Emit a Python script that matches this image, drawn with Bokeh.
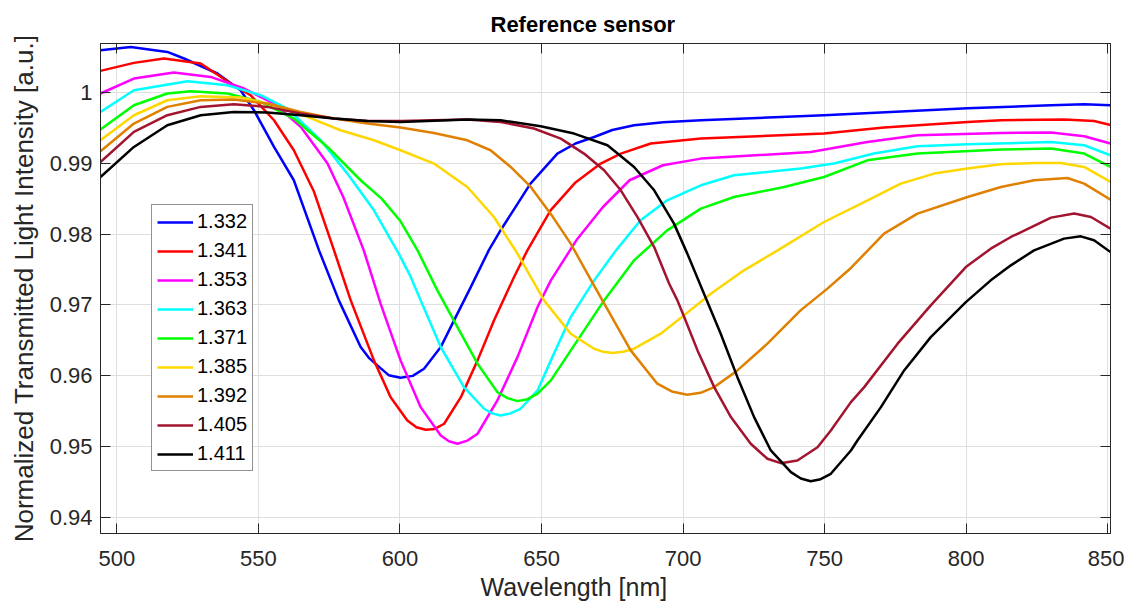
from bokeh.plotting import figure
from bokeh.models import (LinearAxis, FixedTicker, CustomJSTickFormatter, Range1d, Title)
from bokeh.embed import file_html
from bokeh.resources import INLINE

# ---------------- data ----------------
labels = ["1.332", "1.341", "1.353", "1.363", "1.371", "1.385", "1.392", "1.405", "1.411"]
colors = ["#0000FF", "#FF0000", "#FF00FF", "#00FFFF", "#00FF00", "#FFD700", "#DF8000", "#A2142F", "#000000"]

wl_1332 = [494.2, 504.9, 517.8, 523.7, 535.5, 543.7, 548.4, 555.5, 562.5, 571.4, 578.4, 586.1, 589.0, 592.0, 596.0, 600.2,
           604.5, 608.5, 614.4, 619.1, 625.0, 631.4, 635.5, 646.1, 655.6, 662.0, 668.6, 675.0, 682.7, 693.0, 706.3,
           749.8, 800.5, 830.0, 841.7, 851.0]
it_1332 = [1.00598, 1.00645, 1.00574, 1.00481, 1.00269, 1.00033, 0.99750, 0.99231, 0.98760, 0.97769, 0.97062, 0.96402, 0.96250, 0.96143, 0.96005, 0.95969,
           0.95995, 0.96096, 0.96402, 0.96779, 0.97250, 0.97772, 0.98050, 0.98713, 0.99137, 0.99280, 0.99372, 0.99470, 0.99537, 0.99580, 0.99608,
           0.99679, 0.99778, 0.99820, 0.99834, 0.99820]

wl_1341 = [494.2, 506.0, 516.6, 529.6, 540.2, 547.2, 555.5, 562.5, 569.6, 576.7, 582.6, 590.8, 596.7, 602.6, 605.8, 609.1,
           612.3, 615.6, 621.5, 627.4, 633.2, 640.3, 645.0, 653.2, 662.0, 670.9, 678.0, 688.6, 706.3, 749.8, 771.0, 800.5,
           812.3, 834.6, 845.2, 851.0]
it_1341 = [1.00306, 1.00419, 1.00481, 1.00410, 1.00127, 0.99962, 0.99608, 0.99184, 0.98600, 0.97769, 0.97062, 0.96214, 0.95694, 0.95365, 0.95268, 0.95233,
           0.95245, 0.95318, 0.95694, 0.96214, 0.96779, 0.97392, 0.97769, 0.98335, 0.98730, 0.98996, 0.99137, 0.99279, 0.99349, 0.99420, 0.99505, 0.99584,
           0.99608, 0.99618, 0.99598, 0.99542]

wl_1353 = [494.2, 506.0, 520.1, 533.1, 544.9, 555.5, 565.0, 574.4, 580.0, 587.2, 593.2, 600.2, 607.3, 614.4, 617.3, 620.3,
           623.8, 627.4, 634.4, 641.5, 648.6, 653.3, 662.3, 671.7, 681.1, 692.9, 706.3, 745.1, 765.1, 782.8, 812.3, 830.0, 841.7, 851.0]
it_1353 = [0.99986, 1.00198, 1.00283, 1.00221, 1.00057, 0.99844, 0.99513, 0.98996, 0.98520, 0.97769, 0.97010, 0.96214, 0.95553, 0.95153, 0.95070, 0.95035,
           0.95080, 0.95177, 0.95648, 0.96260, 0.96968, 0.97345, 0.97911, 0.98382, 0.98760, 0.98972, 0.99066, 0.99160, 0.99301, 0.99396, 0.99429, 0.99434, 0.99382, 0.99279]

wl_1363 = [494.2, 506.0, 524.9, 539.0, 550.8, 560.2, 572.0, 581.4, 590.8, 599.6, 603.5, 607.3, 614.4, 622.6, 629.7, 632.6, 635.5,
           639.0, 642.6, 648.6, 653.3, 660.3, 668.6, 676.3, 685.0, 694.4, 706.3, 718.0, 741.5, 753.3, 767.4, 782.8, 800.5, 830.0, 841.7, 851.0]
it_1363 = [0.99726, 1.00033, 1.00160, 1.00103, 0.99962, 0.99774, 0.99325, 0.98854, 0.98335, 0.97720, 0.97420, 0.97062, 0.96402, 0.95836, 0.95530, 0.95465, 0.95436,
           0.95465, 0.95530, 0.95789, 0.96214, 0.96826, 0.97345, 0.97769, 0.98194, 0.98477, 0.98689, 0.98830, 0.98925, 0.98996, 0.99137, 0.99240, 0.99269, 0.99301, 0.99255, 0.99113]

wl_1371 = [494.2, 506.0, 517.8, 526.0, 539.0, 550.8, 562.5, 574.4, 586.1, 593.5, 600.2, 606.2, 613.2, 620.3, 627.4, 634.4, 638.0,
           641.5, 645.0, 648.6, 653.3, 662.7, 672.1, 682.7, 694.4, 706.3, 718.0, 735.7, 749.8, 765.1, 782.8, 812.3, 830.0, 841.7, 851.0]
it_1371 = [0.99477, 0.99820, 0.99986, 1.00018, 0.99986, 0.99867, 0.99632, 0.99231, 0.98760, 0.98500, 0.98180, 0.97769, 0.97204, 0.96685, 0.96167, 0.95765, 0.95680,
           0.95638, 0.95665, 0.95743, 0.95931, 0.96497, 0.97062, 0.97628, 0.98052, 0.98359, 0.98523, 0.98665, 0.98806, 0.99042, 0.99137, 0.99194, 0.99208, 0.99137, 0.98948]

wl_1385 = [494.2, 506.0, 517.8, 529.6, 543.7, 555.5, 567.3, 579.0, 590.8, 600.2, 612.0, 623.8, 633.2, 641.5, 650.9,
           660.3, 668.6, 671.8, 675.1, 678.8, 682.7, 692.1, 700.3, 709.8, 721.5, 733.4, 749.8, 765.2, 776.9, 788.7, 800.5,
           812.3, 824.0, 833.4, 841.7, 851.0]
it_1385 = [0.99325, 0.99679, 0.99891, 0.99948, 0.99929, 0.99820, 0.99655, 0.99467, 0.99325, 0.99184, 0.98996, 0.98665, 0.98240, 0.97723, 0.97062,
           0.96591, 0.96379, 0.96335, 0.96317, 0.96335, 0.96379, 0.96591, 0.96850, 0.97157, 0.97487, 0.97769, 0.98170, 0.98477, 0.98713, 0.98854, 0.98925,
           0.98986, 0.99004, 0.99004, 0.98948, 0.98735]

wl_1392 = [494.2, 506.0, 517.8, 529.6, 541.3, 553.1, 564.9, 576.7, 588.5, 600.2, 612.0, 623.8, 632.0, 639.1, 646.2, 653.2,
           660.3, 666.2, 671.5, 681.5, 690.9, 696.0, 701.5, 706.2, 711.0, 719.2, 729.8, 741.5, 751.0, 759.3, 771.0, 782.8,
           800.5, 812.3, 824.0, 835.8, 841.7, 851.0]
it_1392 = [0.99170, 0.99562, 0.99797, 0.99891, 0.99901, 0.99844, 0.99726, 0.99632, 0.99562, 0.99505, 0.99429, 0.99325, 0.99184, 0.98948, 0.98665, 0.98288,
           0.97864, 0.97440, 0.97062, 0.96355, 0.95884, 0.95775, 0.95728, 0.95755, 0.95836, 0.96072, 0.96450, 0.96921, 0.97228, 0.97520, 0.98006, 0.98288,
           0.98523, 0.98665, 0.98759, 0.98792, 0.98713, 0.98487]

wl_1405 = [494.2, 506.0, 517.8, 529.6, 541.3, 553.1, 564.9, 576.7, 588.5, 600.2, 623.8, 635.6, 647.3, 656.8, 665.0, 672.1,
           678.0, 683.9, 689.8, 695.1, 698.0, 700.4, 705.1, 711.0, 716.9, 723.9, 729.8, 734.5, 740.4, 747.5, 752.2, 759.3,
           764.0, 775.8, 787.5, 799.9, 808.7, 815.8, 830.0, 838.2, 844.1, 851.0]
it_1405 = [0.99018, 0.99443, 0.99679, 0.99797, 0.99835, 0.99797, 0.99703, 0.99632, 0.99598, 0.99598, 0.99618, 0.99584, 0.99491, 0.99349, 0.99137, 0.98901,
           0.98618, 0.98240, 0.97816, 0.97298, 0.97062, 0.96826, 0.96355, 0.95836, 0.95412, 0.95035, 0.94823, 0.94761, 0.94799, 0.94987, 0.95222, 0.95624,
           0.95836, 0.96450, 0.96992, 0.97533, 0.97793, 0.97958, 0.98232, 0.98289, 0.98240, 0.98076]

wl_1411 = [494.2, 506.0, 517.8, 529.6, 541.3, 553.1, 564.9, 576.7, 588.5, 600.2, 623.8, 635.6, 649.7, 661.5, 673.3, 682.7,
           689.8, 696.8, 701.5, 707.4, 713.3, 719.2, 725.1, 731.0, 738.1, 741.6, 745.1, 748.6, 752.2, 759.3, 761.6, 769.9,
           778.1, 787.5, 799.9, 808.7, 815.8, 824.0, 834.6, 840.5, 845.2, 851.0]
it_1411 = [0.98806, 0.99231, 0.99537, 0.99679, 0.99726, 0.99717, 0.99679, 0.99632, 0.99598, 0.99584, 0.99618, 0.99608, 0.99523, 0.99420, 0.99255, 0.98948,
           0.98618, 0.98147, 0.97723, 0.97157, 0.96591, 0.95977, 0.95412, 0.94941, 0.94634, 0.94545, 0.94506, 0.94535, 0.94611, 0.94941, 0.95082, 0.95553,
           0.96072, 0.96543, 0.97038, 0.97345, 0.97557, 0.97769, 0.97935, 0.97967, 0.97911, 0.97745]

series_x = [wl_1332, wl_1341, wl_1353, wl_1363, wl_1371, wl_1385, wl_1392, wl_1405, wl_1411]
series_y = [it_1332, it_1341, it_1353, it_1363, it_1371, it_1385, it_1392, it_1405, it_1411]

x_ticks = [500, 550, 600, 650, 700, 750, 800, 850]
y_ticks = [0.94, 0.95, 0.96, 0.97, 0.98, 0.99, 1.0]

FONT = "Liberation Sans"
TXT = "#262626"

p = figure(width=1124, height=604, output_backend="svg", toolbar_location=None,
           x_range=Range1d(494.2, 851.0), y_range=Range1d(0.93767, 1.00693),
           min_border_left=100, min_border_right=14, min_border_top=43, min_border_bottom=71,
           background_fill_color="white", border_fill_color="white")

p.title.text = "Reference sensor"
p.title.text_font = FONT
p.title.text_font_size = "22px"
p.title.text_font_style = "bold"
p.title.text_color = "#000000"
p.title.align = "left"
p.title.offset = 390
p.title.standoff = 14

p.outline_line_color = TXT
p.outline_line_width = 1

yfmt = CustomJSTickFormatter(code="return Math.abs(tick - 1) < 1e-9 ? '1' : tick.toFixed(2);")
blank = CustomJSTickFormatter(code="return '';")

def style_axis(ax, show_labels=True):
    ax.axis_line_color = TXT
    ax.axis_line_width = 1
    ax.major_tick_line_color = TXT
    ax.major_tick_in = 10
    ax.major_tick_out = 0
    ax.minor_tick_line_color = None
    ax.major_label_text_font = FONT
    ax.major_label_text_color = TXT
    if show_labels:
        ax.major_label_text_font_size = "22px"
    else:
        ax.formatter = blank
        ax.major_label_text_font_size = "1px"
        ax.major_label_standoff = 0

p.xaxis.ticker = FixedTicker(ticks=x_ticks)
p.yaxis.ticker = FixedTicker(ticks=y_ticks)
p.yaxis.formatter = yfmt
style_axis(p.xaxis[0])
style_axis(p.yaxis[0])
p.xaxis.major_label_standoff = 17
p.xaxis.major_label_text_line_height = 1.0
p.yaxis.major_label_standoff = 8
p.yaxis.axis_label = "Normalized Transmitted Light Intensity [a.u.]"
p.yaxis.axis_label_text_font = FONT
p.yaxis.axis_label_text_font_size = "26px"
p.yaxis.axis_label_text_font_style = "normal"
p.yaxis.axis_label_text_color = TXT
p.yaxis.axis_label_standoff = 8

# x-axis title, placed slightly left of centre as in the reference
xlab = Title(text="Wavelength [nm]", align="left", offset=380, standoff=4,
             text_font=FONT, text_font_size="25px", text_font_style="normal", text_color=TXT,
             text_line_height=1.0)
p.add_layout(xlab, "below")

top_ax = LinearAxis(ticker=FixedTicker(ticks=x_ticks))
right_ax = LinearAxis(ticker=FixedTicker(ticks=y_ticks))
style_axis(top_ax, False)
style_axis(right_ax, False)
p.add_layout(top_ax, "above")
p.add_layout(right_ax, "right")

p.xgrid.ticker = FixedTicker(ticks=x_ticks)
p.ygrid.ticker = FixedTicker(ticks=y_ticks)
p.grid.grid_line_color = "#DFDFDF"
p.grid.grid_line_width = 1

for xs, ys, c, lab in zip(series_x, series_y, colors, labels):
    p.line(xs, ys, line_color=c, line_width=2.5, legend_label=lab, line_join="round")

lg = p.legend[0]
lg.location = (51, 62)
lg.label_text_font = FONT
lg.label_text_font_size = "20px"
lg.label_text_color = "#000000"
lg.glyph_width = 36
lg.glyph_height = 20
lg.label_height = 20
lg.label_standoff = 4
lg.spacing = 6
lg.padding = 5
lg.margin = 0
lg.border_line_color = TXT
lg.border_line_width = 1
lg.background_fill_color = "white"
lg.background_fill_alpha = 1.0

open("out.html", "w").write(file_html(p, INLINE))
